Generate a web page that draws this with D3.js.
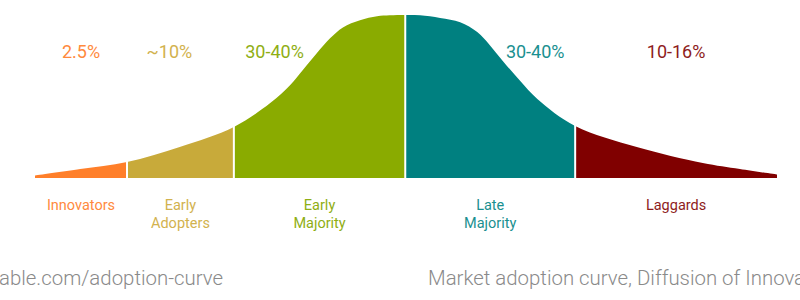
<!DOCTYPE html>
<html>
<head>
<meta charset="utf-8">
<script src="https://cdn.jsdelivr.net/npm/d3@7"></script>
<style>
  html, body { margin: 0; padding: 0; background: #fff; }
  svg { display: block; font-family: Roboto, "Noto Sans", sans-serif; }
</style>
</head>
<body>
<svg id="chart" width="800" height="300"></svg>
<script>
// ---- data ----
// adoption time (0..100) and relative curve height (0..100, peak = 100)
const curveT = [0, 6.1, 12.4, 19.5, 26.8, 31.7, 34.4, 36.1, 38.0, 39.8, 41.5, 43.8, 46.1, 47.8, 49.9,
                51.9, 54.6, 57.3, 59.6, 61.3, 63.1, 65.4, 67.7, 72.8, 81.1, 90.0, 95.0, 100];
const curveH = [1.5, 5.5, 9.8, 19.0, 31.3, 46.0, 57.1, 66.3, 76.7, 85.9, 92.4, 96.8, 99.2, 99.8, 100,
                99.8, 98.2, 95.5, 89.5, 81.5, 71.5, 59.5, 48.5, 31.9, 19.0, 9.2, 5.5, 2.1];
const categories = ["Innovators", "Early\nAdopters", "Early\nMajority", "Late\nMajority", "Laggards"];
const shares = ["2.5%", "~10%", "30-40%", "30-40%", "10-16%"];
const segStart = [0, 12.4, 26.8, 49.9, 72.8];
const segEnd   = [12.4, 26.8, 49.9, 72.8, 100];
const footLeft = "able.com/adoption-curve";
const footRight = "Market adoption curve, Diffusion of Innovations";

// ---- styles ----
const fills = ["#ff7f2a", "#c8aa3a", "#8aab00", "#008080", "#800000"];
const textColors = ["#ff8a3d", "#d2b24e", "#8fae14", "#1a9090", "#8e1c1c"];
const topLabelShift = [0, -11, -45, 45, 0]; // px shift of share labels

const svg = d3.select("#chart");
const x = d3.scaleLinear().domain([0, 100]).range([35, 777]);
const y = d3.scaleLinear().domain([0, 100]).range([178, 15]);

const pts = curveT.map((t, i) => ({ t, h: curveH[i] }));
const area = d3.area()
  .x(d => x(d.t))
  .y0(y(0))
  .y1(d => y(d.h))
  .curve(d3.curveCatmullRom.alpha(0.5));

const defs = svg.append("defs");
categories.forEach((c, i) => {
  defs.append("clipPath").attr("id", "clip" + i)
    .append("rect")
    .attr("x", x(segStart[i]))
    .attr("y", 0)
    .attr("width", x(segEnd[i]) - x(segStart[i]))
    .attr("height", 300);
  svg.append("path")
    .datum(pts)
    .attr("d", area)
    .attr("fill", fills[i])
    .attr("clip-path", "url(#clip" + i + ")");
});

// white separators
svg.selectAll("line.sep")
  .data(segStart.slice(1))
  .enter().append("line")
  .attr("class", "sep")
  .attr("x1", d => x(d)).attr("x2", d => x(d))
  .attr("y1", y(0) + 1).attr("y2", 0)
  .attr("stroke", "#fff")
  .attr("stroke-width", 2);

// share labels
svg.selectAll("text.share")
  .data(shares)
  .enter().append("text")
  .attr("class", "share")
  .attr("x", (d, i) => (x(segStart[i]) + x(segEnd[i])) / 2 + topLabelShift[i])
  .attr("y", 58)
  .attr("text-anchor", "middle")
  .attr("font-size", 18)
  .attr("fill", (d, i) => textColors[i])
  .text(d => d);

// category labels
categories.forEach((c, i) => {
  const cx = (x(segStart[i]) + x(segEnd[i])) / 2;
  const t = svg.append("text")
    .attr("x", cx)
    .attr("y", 210)
    .attr("text-anchor", "middle")
    .attr("font-size", 14.5)
    .attr("fill", textColors[i]);
  c.split("\n").forEach((line, j) => {
    t.append("tspan")
      .attr("x", cx)
      .attr("dy", j === 0 ? 0 : 17.5)
      .text(line);
  });
});

// footer
svg.append("text")
  .attr("x", -1).attr("y", 285)
  .attr("font-size", 20.4).attr("font-weight", 300)
  .attr("fill", "#8a8a8a")
  .text(footLeft);
svg.append("text")
  .attr("x", 428).attr("y", 285)
  .attr("font-size", 20.4).attr("font-weight", 300)
  .attr("fill", "#8a8a8a")
  .text(footRight);
</script>
</body>
</html>
